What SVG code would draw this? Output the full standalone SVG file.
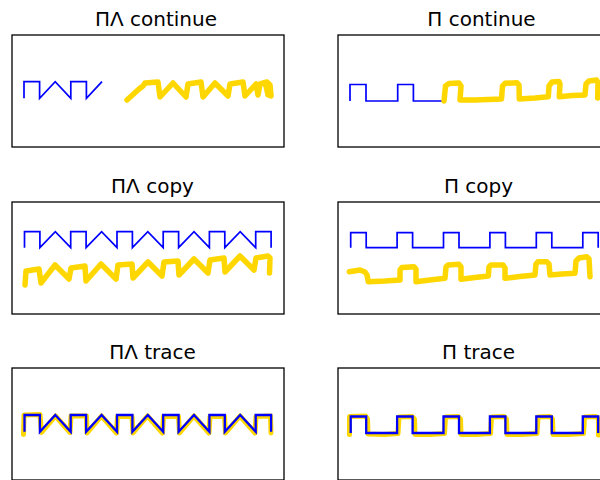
<svg xmlns="http://www.w3.org/2000/svg" width="600" height="480" viewBox="0 0 600 480">
  <style>
    .frame { fill: none; stroke: #000; stroke-width: 1.3; }
    .title { font-family: "DejaVu Sans", "Noto Sans", sans-serif; font-size: 20px; text-anchor: middle; fill: #000; }
    .blue { fill: none; stroke: #0000ff; stroke-width: 1.7; stroke-linejoin: miter; }
    .blue.thick { stroke-width: 2.3; }
    .gold { fill: none; stroke: #ffd700; stroke-width: 5.5; stroke-linecap: round; stroke-linejoin: round; }
    .gold.thin { stroke-width: 5; }
  </style>
  <rect width="600" height="480" fill="#fff"/>

  <!-- Row 1: continue -->
  <g id="pl-continue">
    <rect class="frame" x="12" y="35" width="272" height="112"/>
    <text class="title" x="156" y="26">ΠΛ continue</text>
    <path class="blue" d="M24,98.3 V81.7 H39.6 V98.3 L55.2,81.7 L70.8,98.3 V81.7 H86.4 V98.3 L102,81.7"/>
    <path class="gold" d="M127,100 L139,89 L143,86 L145,83 L158,82 L160,97 L173,83 L186,97 L188,84 L201,82 L203,97 L215,83 L228,96 L230,84 L243,82 L245,96 L256,84 L258,95 L260,84 L267,82 L270,85 L271,96 L268,95 L266,86"/>
  </g>

  <g id="p-continue">
    <rect class="frame" x="338" y="35" width="272" height="112"/>
    <text class="title" x="481.5" y="26">Π continue</text>
    <path class="blue" d="M350,101 V84.5 H366 V101 H397.7 V84.5 H413.4 V101 H446"/>
    <path class="gold" d="M444,101 L445.5,86 L449,83.5 L459,83 L461,86 L460,100 L475,100 L501.5,99 L502.5,86 L505,83.3 L517,82.7 L519,85 L519.3,99 L535,98 L548.3,96.7 L549,86 L552,82 L559,81.5 L560,84 L559.3,96.7 L572,95.5 L585,95 L586,84 L589,81 L596.7,80 L598,83 L597.7,98"/>
  </g>

  <!-- Row 2: copy -->
  <g id="pl-copy">
    <rect class="frame" x="12" y="202" width="272" height="112"/>
    <text class="title" x="152.5" y="193">ΠΛ copy</text>
    <path class="blue" d="M24.5,247.7 V231.7 H39.9 V247.7 L55.3,231.7 L70.7,247.7 V231.7 H86.1 V247.7 L101.6,231.7 L117,247.7 V231.7 H132.4 V247.7 L147.8,231.7 L163.2,247.7 V231.7 H178.6 V247.7 L194,231.7 L209.4,247.7 V231.7 H224.8 V247.7 L240.2,231.7 L255.7,247.7 V231.7 H271.1 V247.7"/>
    <path class="gold" d="M25,285 L26,271 L39,269 L41,283 L55,265 L69,279 L71,268 L85,266 L86,281 L101,264 L116,279 L118,265 L132,264 L133,278 L148,262 L162,276 L164,262 L178,261 L179,275 L194,259 L208,273 L210,260 L224,258 L225,272 L240,256 L254,270 L256,258 L268,256 L270,258 L269.5,273"/>
  </g>

  <g id="p-copy">
    <rect class="frame" x="338" y="202" width="272" height="112"/>
    <text class="title" x="478.5" y="193">Π copy</text>
    <path class="blue" d="M350.7,247.7 V232.7 H366.2 V247.7 H397.1 V232.7 H412.6 V247.7 H443.5 V232.7 H459 V247.7 H489.9 V232.7 H505.4 V247.7 H536.3 V232.7 H551.8 V247.7 H582.8 V232.7 H598.2 V247.7"/>
    <path class="gold" d="M349.3,271.7 L360,270 L365,272 L367,275 L368.3,281.7 L385,281 L400,280 L400,270 L402,267.5 L414,266.7 L416,269 L416,281.7 L430,280 L445,278.3 L446,267 L448,265 L459,264.3 L461,267 L461,279.3 L475,277.5 L488.3,276 L489,267 L491,265 L503,265 L505,268 L505,278.3 L520,276.5 L535,275 L536,264 L538,261.7 L546.7,261.7 L549,264 L550,275 L562,274 L575,273.3 L576,261 L579,258 L586.7,256.7 L589,259 L590,276.7"/>
  </g>

  <!-- Row 3: trace -->
  <g id="pl-trace">
    <rect class="frame" x="12" y="368" width="272" height="112"/>
    <text class="title" x="152.5" y="359">ΠΛ trace</text>
    <path class="gold thin" d="M23.5,434.5 L24,415 L40,414.5 L41.5,432.5 L55.5,416 L70,432.5 L71,416 L86.5,416 L87,433 L101.5,416 L116.5,433 L117.5,416.5 L132,416.5 L133,433 L147.5,416 L162.5,433 L163.5,416.5 L178.5,416.5 L179.5,433 L194,416 L209,433 L210,416.5 L224.5,416.5 L225.5,433 L240,416 L255,433 L256,416.5 L270.5,416 L271,433"/>
    <path class="blue thick" d="M24.5,431.7 V415 H39.9 V431.7 L55.3,415 L70.7,431.7 V415 H86.1 V431.7 L101.6,415 L117,431.7 V415 H132.4 V431.7 L147.8,415 L163.2,431.7 V415 H178.6 V431.7 L194,415 L209.4,431.7 V415 H224.8 V431.7 L240.2,415 L255.7,431.7 V415 H271.1 V431.7"/>
  </g>

  <g id="p-trace">
    <rect class="frame" x="338" y="368" width="272" height="112"/>
    <text class="title" x="478.5" y="359">Π trace</text>
    <path class="gold thin" d="M349.5,434.5 L349.5,416.5 L365.5,416 L367.5,419 L368,434 L384,434.5 L398,433.5 L399,417 L412,416.5 L414.5,419 L415,434.5 L430,434.5 L444.5,433.5 L445.5,417 L458,416.5 L460.5,419 L461,434.5 L476,434.5 L490.5,433.5 L491.5,417 L504,416.5 L506.5,419 L507,434.5 L522,434.5 L537,433.5 L538,417 L550,416.5 L552.5,419 L553,434.5 L568,434.5 L583.5,433.5 L584.5,417 L596,416.5 L598.5,419 L598.5,435"/>
    <path class="blue thick" d="M350.7,433 V416.5 H366.2 V433 H397.1 V416.5 H412.6 V433 H443.5 V416.5 H459 V433 H489.9 V416.5 H505.4 V433 H536.3 V416.5 H551.8 V433 H582.8 V416.5 H598.2 V433"/>
  </g>
</svg>
